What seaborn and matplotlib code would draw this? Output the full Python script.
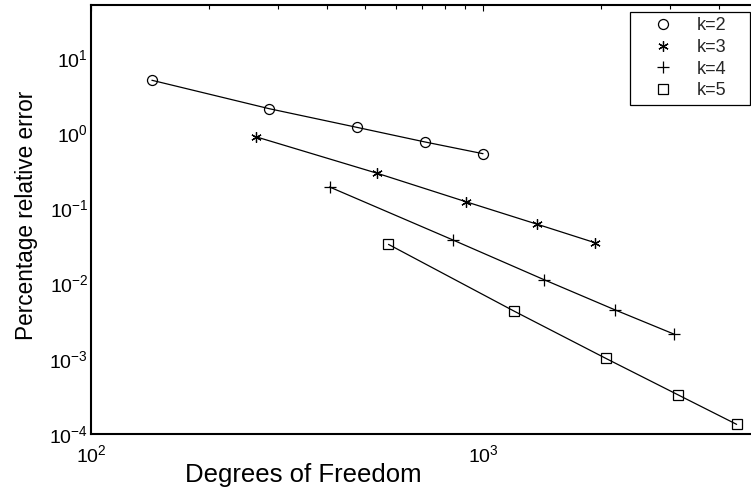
import numpy as np
import pandas as pd
import matplotlib
matplotlib.use("Agg")
import matplotlib.pyplot as plt
import seaborn as sns
from matplotlib.lines import Line2D
from matplotlib.ticker import LogLocator, NullFormatter

# ---- data ----
k_labels = ["k=2", "k=3", "k=4", "k=5"]
dof_k2 = [143, 285, 476, 711, 1000]
err_k2 = [5.01, 2.10, 1.19, 0.76, 0.531]
dof_k3 = [263, 537, 906, 1377, 1932]
err_k3 = [0.893, 0.292, 0.122, 0.0613, 0.0349]
dof_k4 = [406, 839, 1432, 2177, 3069]
err_k4 = [0.192, 0.0379, 0.01127, 0.00446, 0.00214]
dof_k5 = [574, 1199, 2056, 3141, 4436]
err_k5 = [0.0332, 0.00433, 0.00102, 0.000335, 0.0001355]

x_label = "Degrees of Freedom"
y_label = "Percentage relative error"

frames = []
for lab, d, e in zip(k_labels, [dof_k2, dof_k3, dof_k4, dof_k5],
                     [err_k2, err_k3, err_k4, err_k5]):
    frames.append(pd.DataFrame({"dof": d, "err": e, "k": lab}))
df = pd.concat(frames, ignore_index=True)

sns.set_theme(style="white")
plt.rcParams["font.family"] = ["Liberation Sans", "DejaVu Sans"]
plt.rcParams["mathtext.fontset"] = "custom"
plt.rcParams["mathtext.rm"] = "Liberation Sans"
plt.rcParams["mathtext.it"] = "Liberation Sans:italic"
plt.rcParams["mathtext.bf"] = "Liberation Sans:bold"
plt.rcParams["mathtext.default"] = "regular"

W, H = 751, 497
fig = plt.figure(figsize=(W / 100, H / 100), dpi=100)
left, right, top, bottom = 91, 757, 5, 434.3
ax = fig.add_axes([left / W, (H - bottom) / H, (right - left) / W, (bottom - top) / H])
ax.set_xscale("log")
ax.set_yscale("log")

styles = {
    "k=2": dict(marker="o", markersize=7.2),
    "k=3": dict(marker=(6, 2, 0), markersize=7.5),
    "k=4": dict(marker="+", markersize=8.5),
    "k=5": dict(marker="s", markersize=6.5),
}

for lab in k_labels:
    sub = df[df["k"] == lab]
    sns.lineplot(data=sub, x="dof", y="err", ax=ax, color="black", linewidth=0.9,
                 markerfacecolor="none", markeredgecolor="black", markeredgewidth=0.9,
                 estimator=None, sort=False, legend=False, **styles[lab])

ax.set_xlim(100, 5000)
ax.set_ylim(1e-4, 50)

ax.xaxis.set_minor_locator(LogLocator(base=10, subs=np.arange(2, 10), numticks=100))
ax.yaxis.set_minor_locator(LogLocator(base=10, subs=np.arange(2, 10), numticks=100))
ax.xaxis.set_minor_formatter(NullFormatter())
ax.yaxis.set_minor_formatter(NullFormatter())

ax.tick_params(which="both", direction="in", top=True, right=True, colors="black",
               width=0.8)
ax.tick_params(which="major", length=4.5, labelsize=14)
ax.tick_params(axis="x", which="major", pad=7)
ax.tick_params(axis="y", which="major", pad=2)
ax.tick_params(which="minor", length=3)
for s in ax.spines.values():
    s.set_color("black")
    s.set_linewidth(1.5)

ax.set_xlabel(x_label, fontsize=18.5, color="black")
ax.set_ylabel(y_label, fontsize=16.3, color="black")
ax.xaxis.set_label_coords((303 - left) / (right - left), -(463 - bottom) / (bottom - top))
ax.yaxis.set_label_coords((38 - left) / (right - left), (bottom - 215) / (bottom - top))

handles = [Line2D([], [], linestyle="none", color="black", markerfacecolor="none",
                  markeredgecolor="black", markeredgewidth=0.9, **styles[lab])
           for lab in k_labels]
leg = ax.legend(handles, k_labels, loc="upper left", mode="expand",
                bbox_to_anchor=(630 / W, 1 - 12 / H - 0.01, 120 / W, 0.01),
                bbox_transform=fig.transFigure,
                fontsize=13, frameon=True, fancybox=False, edgecolor="black",
                framealpha=1, borderpad=0.3, labelspacing=0.26, handlelength=3.0,
                handletextpad=0.42, borderaxespad=0)
leg.get_frame().set_linewidth(0.9)

fig.savefig("out.png", dpi=100, facecolor="white")
